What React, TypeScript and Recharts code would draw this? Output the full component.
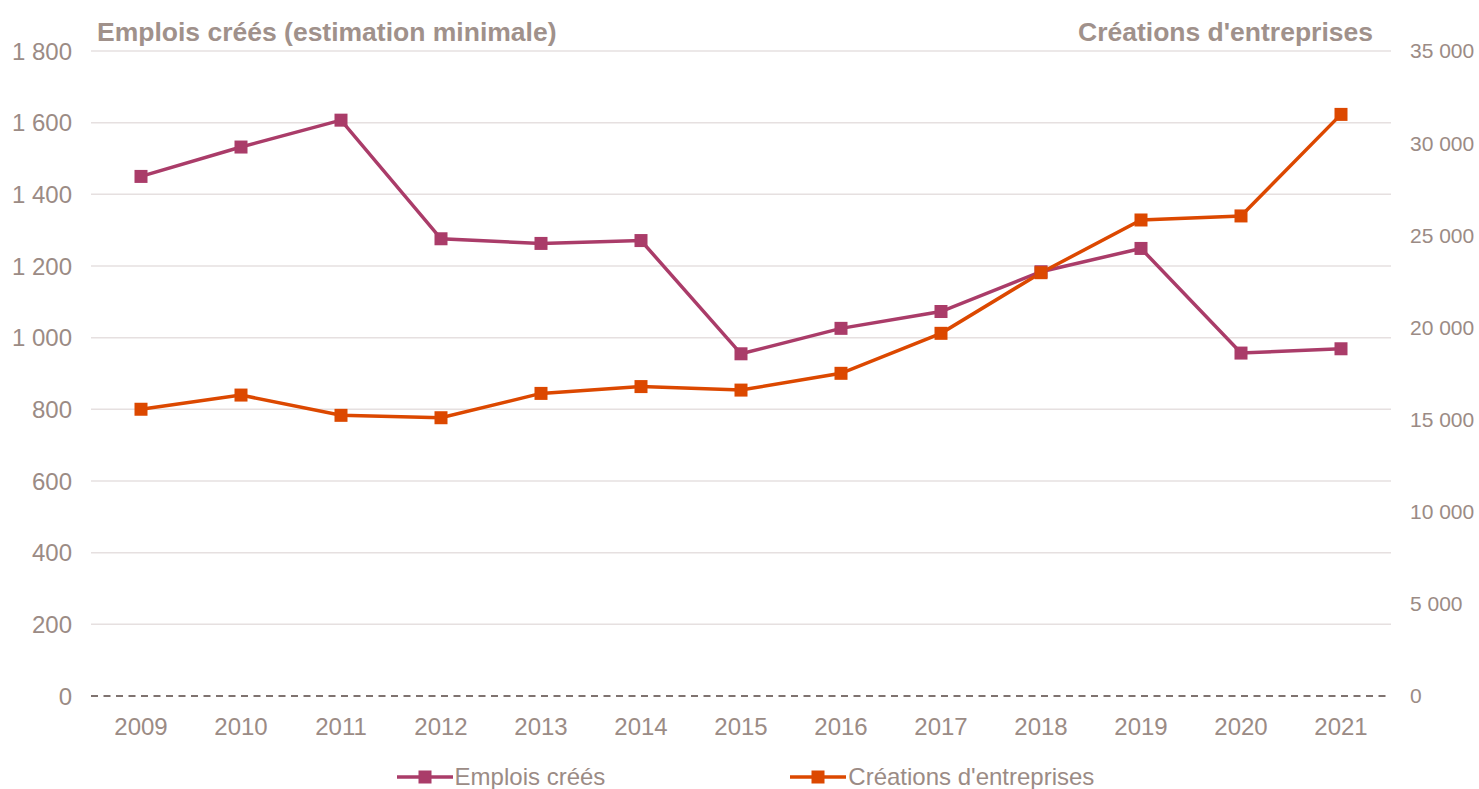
import { CartesianGrid, Legend, Line, LineChart, ReferenceLine, XAxis, YAxis } from "recharts";

const YEARS = ["2009", "2010", "2011", "2012", "2013", "2014", "2015", "2016", "2017", "2018", "2019", "2020", "2021"];
const EMPLOIS = [1450, 1532, 1607, 1276, 1263, 1271, 955, 1026, 1073, 1184, 1249, 957, 969];
const CREATIONS = [15560, 16330, 15230, 15100, 16420, 16790, 16600, 17510, 19680, 22970, 25830, 26050, 31560];
const LEFT_TICKS = [0, 200, 400, 600, 800, 1000, 1200, 1400, 1600, 1800];
const RIGHT_TICKS = [0, 5000, 10000, 15000, 20000, 25000, 30000, 35000];
const SERIES_ORDER = ["Emplois créés", "Créations d'entreprises"];

const PURPLE = "#aa3c69";
const ORANGE = "#dc4800";
const TEXT = "#9b8b85";
const FONT = "'Liberation Sans', Arial, sans-serif";

const data = YEARS.map((year, i) => ({ year, emplois: EMPLOIS[i], creations: CREATIONS[i] }));

const fmt = (v: number) => String(v).replace(/\B(?=(\d{3})+(?!\d))/g, " ");

function Square(props: any) {
  const { cx, cy, fill } = props;
  if (cx == null || cy == null) return null;
  return <rect x={cx - 6.5} y={cy - 6.5} width={13} height={13} fill={fill} />;
}

function LegendBox(props: any) {
  const items = [...(props.payload ?? [])].sort(
    (a: any, b: any) => SERIES_ORDER.indexOf(a.value) - SERIES_ORDER.indexOf(b.value)
  );
  return (
    <div
      style={{
        display: "flex",
        justifyContent: "center",
        gap: 185,
        paddingLeft: 12,
        height: 24,
        alignItems: "center",
        fontFamily: FONT,
        fontSize: 24,
        color: TEXT,
      }}
    >
      {items.map((it: any) => (
        <div key={it.value} style={{ display: "flex", alignItems: "center" }}>
          <svg width={58} height={24}>
            <line x1={0} y1={12} x2={56} y2={12} stroke={it.color} strokeWidth={3.5} />
            <rect x={21.5} y={5.5} width={13} height={13} fill={it.color} />
          </svg>
          <span style={{ lineHeight: "24px" }}>{it.value}</span>
        </div>
      ))}
    </div>
  );
}

export default function App() {
  return (
    <div style={{ position: "relative", width: 1479, height: 789, fontFamily: FONT }}>
      <style>{"body{margin:0}"}</style>
      <LineChart width={1479} height={789} data={data} margin={{ top: 51, right: 0, left: 0, bottom: 0 }}>
        <CartesianGrid
          yAxisId="left"
          vertical={false}
          horizontalValues={LEFT_TICKS.filter((v) => v > 0)}
          stroke="#e6e0e0"
          strokeWidth={1.5}
        />
        <XAxis
          dataKey="year"
          height={69}
          padding={{ left: 50, right: 50 }}
          axisLine={false}
          tickLine={false}
          tickSize={0}
          tickMargin={22}
          tick={{ fill: TEXT, fontSize: 24, fontFamily: FONT }}
          interval={0}
        />
        <YAxis
          yAxisId="left"
          width={91}
          domain={[0, 1800]}
          ticks={LEFT_TICKS}
          tickFormatter={fmt}
          axisLine={false}
          tickLine={false}
          tickSize={0}
          tickMargin={19}
          tick={{ fill: TEXT, fontSize: 24, fontFamily: FONT }}
          interval={0}
        />
        <YAxis
          yAxisId="right"
          orientation="right"
          width={88}
          domain={[0, 35000]}
          ticks={RIGHT_TICKS}
          tickFormatter={fmt}
          axisLine={false}
          tickLine={false}
          tickSize={0}
          tickMargin={19}
          tick={{ fill: TEXT, fontSize: 21, fontFamily: FONT }}
          interval={0}
        />
        <ReferenceLine yAxisId="left" y={0} stroke="#7f7370" strokeWidth={2} strokeDasharray="7 5.5" />
        <Legend verticalAlign="bottom" content={<LegendBox />} wrapperStyle={{ height: 24 }} />
        <Line
          yAxisId="left"
          dataKey="emplois"
          name="Emplois créés"
          stroke={PURPLE}
          fill={PURPLE}
          strokeWidth={3.5}
          dot={<Square />}
          activeDot={false}
          isAnimationActive={false}
        />
        <Line
          yAxisId="right"
          dataKey="creations"
          name="Créations d'entreprises"
          stroke={ORANGE}
          fill={ORANGE}
          strokeWidth={3.5}
          dot={<Square />}
          activeDot={false}
          isAnimationActive={false}
        />
      </LineChart>
      <div
        style={{
          position: "absolute",
          left: 97,
          top: 17,
          lineHeight: "30px",
          fontSize: 26.5,
          fontWeight: "bold",
          color: "#a0918b",
        }}
      >
        Emplois créés (estimation minimale)
      </div>
      <div
        style={{
          position: "absolute",
          right: 106,
          top: 17,
          lineHeight: "30px",
          fontSize: 26.5,
          fontWeight: "bold",
          color: "#a0918b",
        }}
      >
        Créations d'entreprises
      </div>
    </div>
  );
}
